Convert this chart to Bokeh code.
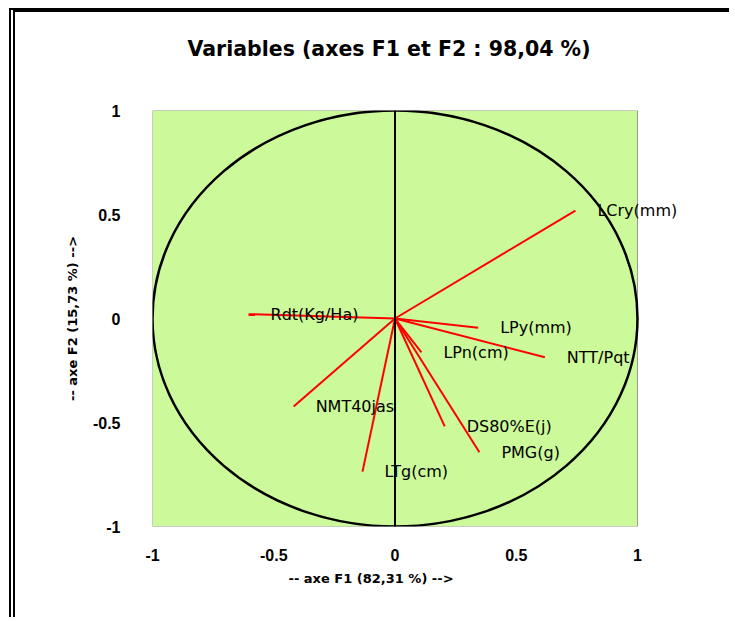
from bokeh.plotting import figure
from bokeh.models import ColumnDataSource, FixedTicker, Label, Range1d, Span, Title
from bokeh.embed import file_html
from bokeh.resources import INLINE

# ---- data (correlation circle, F1 x F2) ----
variables = ["LCry(mm)", "Rdt(Kg/Ha)", "NMT40jas", "LTg(cm)", "LPy(mm)",
             "NTT/Pqt", "LPn(cm)", "DS80%E(j)", "PMG(g)"]
f1 = [0.744, -0.604, -0.418, -0.134, 0.343, 0.618, 0.109, 0.205, 0.348]
f2 = [0.519, 0.021, -0.423, -0.736, -0.045, -0.186, -0.163, -0.519, -0.643]
origin_x = [0.0] * len(variables)
origin_y = [0.0] * len(variables)

tick_values = [-1, -0.5, 0, 0.5, 1]
tick_labels = ["-1", "-0.5", "0", "0.5", "1"]

title_text = "Variables (axes F1 et F2 : 98,04 %)"
x_label = "-- axe F1 (82,31 %) -->"
y_label = "-- axe F2 (15,73 %) -->"

# ---- layout (pixels) ----
circle_w_px = 485      # width of the green plotting area
frame_w_px = 548       # frame is wider so that labels are not clipped on the right
frame_h_px = 416

lo, hi = tick_values[0], tick_values[-1]
x_end = lo + (hi - lo) * frame_w_px / circle_w_px

src = ColumnDataSource(dict(name=variables, f1=f1, f2=f2, x0=origin_x, y0=origin_y))

p = figure(width=720, height=609,
           x_range=Range1d(lo, x_end), y_range=Range1d(lo, hi),
           output_backend="svg", toolbar_location=None,
           min_border_left=137, min_border_right=720 - 137 - frame_w_px,
           min_border_top=98, min_border_bottom=609 - 98 - frame_h_px)

p.styles = {"margin-left": "9px", "margin-top": "8px",
            "border-left": "6px double black", "border-top": "4px solid black"}

p.background_fill_color = "white"
p.border_fill_color = "white"
p.outline_line_color = None
p.xgrid.visible = False
p.ygrid.visible = False

# spacer between frame and the title
p.add_layout(Title(text=" ", text_font_size="1px", standoff=20), "above")

p.title.text = title_text
p.title.align = "left"
p.title.offset = 35
p.title.vertical_align = "top"
p.title.text_color = "black"
p.title.text_font = "DejaVu Sans"
p.title.text_font_style = "bold"
p.title.text_font_size = "20.5px"
p.title.standoff = 49

for ax in (p.xaxis[0], p.yaxis[0]):
    ax.ticker = FixedTicker(ticks=tick_values)
    ax.major_label_overrides = {v: s for v, s in zip(tick_values, tick_labels)}
    ax.axis_line_color = None
    ax.major_tick_line_color = None
    ax.minor_tick_line_color = None
    ax.major_tick_out = 0
    ax.major_tick_in = 0
    ax.major_label_text_font = "Liberation Sans"
    ax.major_label_text_font_style = "bold"
    ax.major_label_text_font_size = "16px"
    ax.major_label_text_color = "black"
    ax.axis_label_text_font = "DejaVu Sans"
    ax.axis_label_text_font_style = "bold"
    ax.axis_label_text_font_size = "13px"
    ax.axis_label_text_color = "black"

p.yaxis[0].axis_label = y_label
p.xaxis[0].major_label_standoff = 22
p.yaxis[0].major_label_standoff = 32
p.yaxis[0].axis_label_standoff = 10

# x-axis title placed under the axis, aligned like the reference
p.add_layout(Title(text=x_label, align="left", offset=136, standoff=10,
                   text_font="DejaVu Sans", text_font_style="bold",
                   text_font_size="13px", text_color="black"), "below")

# green plotting area (unit square) with grey border
p.quad(left=[lo], right=[hi], bottom=[lo], top=[hi],
       fill_color="#CCF99A", line_color="#9A9A9A", line_width=1)

# vertical axis line through 0
p.add_layout(Span(location=0, dimension="height", line_color="black", line_width=2))

# unit circle
p.ellipse(x=[0], y=[0], width=[hi - lo], height=[hi - lo], fill_color=None,
          line_color="black", line_width=2.5)

# variable vectors
p.segment(x0="x0", y0="y0", x1="f1", y1="f2", source=src,
          line_color="red", line_width=2)

# variable names
for name, xv, yv in zip(variables, f1, f2):
    p.add_layout(Label(x=xv, y=yv, text=name, x_offset=22, y_offset=0,
                       text_align="left", text_baseline="middle",
                       text_font="DejaVu Sans", text_font_size="16px",
                       text_color="black"))

open("out.html", "w").write(file_html(p, INLINE))
